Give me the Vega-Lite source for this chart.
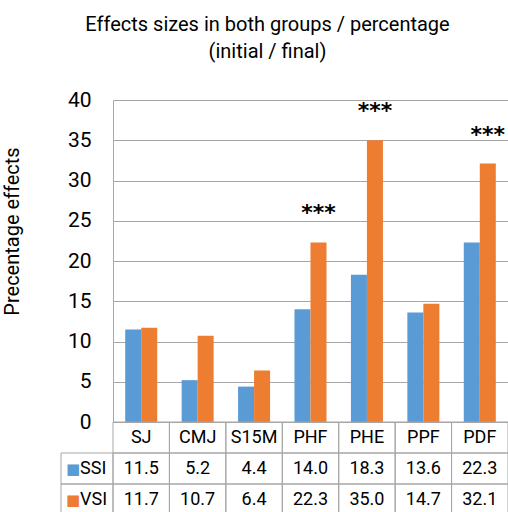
{
  "$schema": "https://vega.github.io/schema/vega-lite/v6.json",
  "width": 395,
  "height": 415,
  "autosize": {"type": "none"},
  "padding": {"left": 113, "top": 100, "right": 0, "bottom": 0},
  "background": "white",
  "config": {"view": {"stroke": null}, "font": "Roboto"},
  "title": {
    "text": ["Effects sizes in both groups / percentage", "(initial / final)"],
    "fontSize": 20,
    "fontWeight": "normal",
    "font": "Roboto",
    "color": "black",
    "anchor": "middle",
    "dx": -43,
    "offset": 27,
    "lineHeight": 27
  },
  "data": {
    "values": [
      {"cat": "SJ", "group": "SSI", "value": 11.5, "sig": ""},
      {"cat": "SJ", "group": "VSI", "value": 11.7, "sig": ""},
      {"cat": "CMJ", "group": "SSI", "value": 5.2, "sig": ""},
      {"cat": "CMJ", "group": "VSI", "value": 10.7, "sig": ""},
      {"cat": "S15M", "group": "SSI", "value": 4.4, "sig": ""},
      {"cat": "S15M", "group": "VSI", "value": 6.4, "sig": ""},
      {"cat": "PHF", "group": "SSI", "value": 14.0, "sig": ""},
      {"cat": "PHF", "group": "VSI", "value": 22.3, "sig": "***"},
      {"cat": "PHE", "group": "SSI", "value": 18.3, "sig": ""},
      {"cat": "PHE", "group": "VSI", "value": 35.0, "sig": "***"},
      {"cat": "PPF", "group": "SSI", "value": 13.6, "sig": ""},
      {"cat": "PPF", "group": "VSI", "value": 14.7, "sig": ""},
      {"cat": "PDF", "group": "SSI", "value": 22.3, "sig": ""},
      {"cat": "PDF", "group": "VSI", "value": 32.1, "sig": "***"}
    ]
  },
  "resolve": {"scale": {"x": "independent", "y": "independent"}},
  "layer": [
    {
      "layer": [
        {
          "mark": {"type": "bar"},
          "encoding": {
            "x": {"field": "cat", "type": "nominal", "scale": {"domain": ["SJ", "CMJ", "S15M", "PHF", "PHE", "PPF", "PDF"], "paddingInner": 0, "paddingOuter": 0}, "axis": null},
            "xOffset": {"field": "group", "type": "nominal", "scale": {"domain": ["SSI", "VSI"], "paddingInner": 0, "paddingOuter": 0.7625}},
            "y": {
              "field": "value", "type": "quantitative",
              "scale": {"domain": [0, 40], "range": [322, 0], "nice": false},
              "axis": {
                "values": [0, 5, 10, 15, 20, 25, 30, 35, 40],
                "grid": true, "gridColor": "#a6a6a6", "gridOpacity": 1,
                "domainColor": "#a6a6a6", "ticks": false,
                "labelFontSize": 21, "labelColor": "black", "labelPadding": 22,
                "labelFont": "Roboto",
                "title": "Precentage effects", "titleFontSize": 20, "titleFontWeight": "normal",
                "titleColor": "black", "titleFont": "Roboto",
                "titleX": -91, "titleY": 131
              }
            },
            "color": {"field": "group", "type": "nominal", "scale": {"domain": ["SSI", "VSI"], "range": ["#5b9bd5", "#ed7d31"]}, "legend": null}
          }
        },
        {
          "mark": {"type": "text", "dy": -29, "baseline": "middle", "align": "center", "fontSize": 22, "fontWeight": "bold", "font": "DejaVu Sans", "color": "black"},
          "encoding": {
            "x": {"field": "cat", "type": "nominal"},
            "xOffset": {"field": "group", "type": "nominal"},
            "y": {"field": "value", "type": "quantitative"},
            "text": {"field": "sig"}
          }
        }
      ]
    },
    {
      "layer": [
        {
          "mark": {"type": "rect", "filled": false, "stroke": "#a6a6a6", "strokeWidth": 1},
          "encoding": {
            "x": {"field": "cat", "type": "nominal", "scale": {"domain": ["SJ", "CMJ", "S15M", "PHF", "PHE", "PPF", "PDF"], "paddingInner": 0, "paddingOuter": 0}, "axis": null},
            "y": {"field": "group", "type": "nominal", "scale": {"domain": ["hdr", "SSI", "VSI"], "range": [322, 415], "paddingInner": 0, "paddingOuter": 0}, "axis": null}
          }
        },
        {
          "transform": [{"filter": "datum.group == 'SSI'"}],
          "mark": {"type": "rect", "filled": false, "stroke": "#a6a6a6", "strokeWidth": 1},
          "encoding": {
            "x": {"field": "cat", "type": "nominal"},
            "y": {"datum": "hdr", "type": "nominal"}
          }
        },
        {
          "mark": {"type": "text", "fontSize": 18, "baseline": "middle", "align": "center", "color": "black"},
          "encoding": {
            "x": {"field": "cat", "type": "nominal"},
            "y": {"field": "group", "type": "nominal"},
            "text": {"field": "value", "type": "quantitative", "format": ".1f"}
          }
        },
        {
          "transform": [{"filter": "datum.group == 'SSI'"}],
          "mark": {"type": "text", "fontSize": 18, "baseline": "middle", "align": "center", "color": "black"},
          "encoding": {
            "x": {"field": "cat", "type": "nominal"},
            "y": {"datum": "hdr", "type": "nominal"},
            "text": {"field": "cat"}
          }
        }
      ]
    },
    {
      "transform": [{"filter": "datum.cat == 'SJ'"}],
      "layer": [
        {
          "mark": {"type": "rect", "filled": false, "stroke": "#a6a6a6", "strokeWidth": 1},
          "encoding": {
            "x": {"datum": "lbl", "type": "nominal", "scale": {"domain": ["lbl"], "range": [-52, 0], "paddingInner": 0, "paddingOuter": 0}, "axis": null},
            "y": {"field": "group", "type": "nominal", "scale": {"domain": ["hdr", "SSI", "VSI"], "range": [322, 415], "paddingInner": 0, "paddingOuter": 0}, "axis": null}
          }
        },
        {
          "mark": {"type": "text", "fontSize": 15, "baseline": "middle", "align": "center", "dx": -14, "font": "DejaVu Sans"},
          "encoding": {
            "x": {"datum": "lbl", "type": "nominal"},
            "y": {"field": "group", "type": "nominal"},
            "text": {"value": "■"},
            "color": {"field": "group", "type": "nominal"}
          }
        },
        {
          "mark": {"type": "text", "fontSize": 18, "baseline": "middle", "align": "left", "dx": -7, "color": "black"},
          "encoding": {
            "x": {"datum": "lbl", "type": "nominal"},
            "y": {"field": "group", "type": "nominal"},
            "text": {"field": "group"}
          }
        }
      ]
    }
  ]
}
